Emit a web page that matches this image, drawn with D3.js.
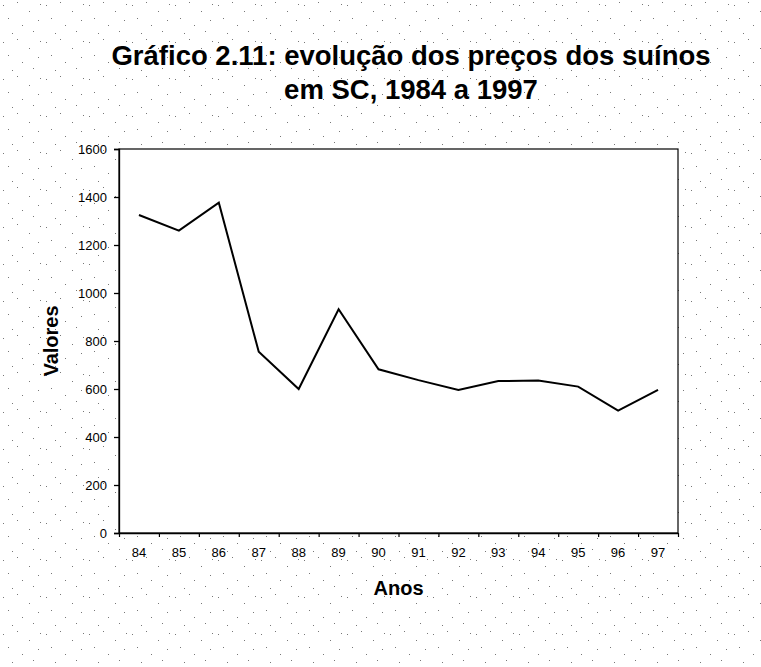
<!DOCTYPE html>
<html>
<head>
<meta charset="utf-8">
<script src="https://cdn.jsdelivr.net/npm/d3@7"></script>
<style>
body { margin: 0; background: #fff; }
text { font-family: Arial, "Liberation Sans", sans-serif; fill: #000; }
</style>
</head>
<body>
<div id="chart"></div>
<script>
// data
var anos = ['84', '85', '86', '87', '88', '89', '90', '91', '92', '93', '94', '95', '96', '97'];
var precos = [1325, 1260, 1376, 755, 600, 932, 682, 637, 596, 633, 635, 610, 510, 596];
var yTicks = [0, 200, 400, 600, 800, 1000, 1200, 1400, 1600];

var width = 761;
var height = 667;
var plot = {left: 119, right: 678, top: 149, bottom: 533};

var svg = d3.select('#chart')
	.append('svg')
	.attr('width', width)
	.attr('height', height);

// scan-like stipple on the page background
var pat = svg.append('defs').append('pattern')
	.attr('id', 'stipple')
	.attr('width', 43)
	.attr('height', 37)
	.attr('patternUnits', 'userSpaceOnUse');
[[3, 5], [17, 2], [29, 11], [38, 20], [8, 18], [22, 25], [33, 31], [12, 33], [40, 4]].forEach(function(p){
	pat.append('rect').attr('x', p[0]).attr('y', p[1]).attr('width', 1).attr('height', 1).attr('fill', '#777');
});
svg.append('rect')
	.attr('width', width)
	.attr('height', height)
	.attr('fill', 'url(#stipple)');

// scales
var x_scale = d3.scaleBand()
	.domain(anos)
	.range([plot.left, plot.right]);
var y_scale = d3.scaleLinear()
	.domain([0, 1600])
	.range([plot.bottom, plot.top]);

// plot area
svg.append('rect')
	.attr('x', plot.left)
	.attr('y', plot.top)
	.attr('width', plot.right - plot.left)
	.attr('height', plot.bottom - plot.top)
	.attr('fill', '#fff')
	.attr('stroke', '#000')
	.attr('stroke-width', 1.2);

// y axis
var y_axis = d3.axisLeft(y_scale)
	.tickValues(yTicks)
	.tickSize(5)
	.tickPadding(7)
	.tickFormat(d3.format('d'));
svg.append('g')
	.attr('class', 'y-axis')
	.attr('transform', 'translate(' + plot.left + ',0)')
	.call(y_axis)
	.call(function(g){
		g.selectAll('text').style('font-size', '13px');
		g.selectAll('line, path').attr('stroke', '#000').attr('stroke-width', 1.3);
	});

// x axis: labels centred in each band, ticks on band boundaries
var x_labels = d3.axisBottom(x_scale).tickSize(0).tickPadding(15);
svg.append('g')
	.attr('class', 'x-axis')
	.attr('transform', 'translate(0,' + plot.bottom + ')')
	.call(x_labels)
	.call(function(g){
		g.selectAll('text').style('font-size', '13px');
		g.select('.domain').attr('stroke', '#000').attr('stroke-width', 1.3);
	});

var edge_scale = d3.scaleLinear()
	.domain([0, anos.length])
	.range([plot.left, plot.right]);
svg.append('g')
	.attr('transform', 'translate(0,' + plot.bottom + ')')
	.call(d3.axisBottom(edge_scale).tickValues(d3.range(anos.length + 1)).tickSize(4).tickFormat(''))
	.call(function(g){
		g.select('.domain').remove();
		g.selectAll('line').attr('stroke', '#000').attr('stroke-width', 1.2);
	});

// line
var line = d3.line()
	.x(function(d, i){ return x_scale(anos[i]) + x_scale.bandwidth() / 2; })
	.y(function(d){ return y_scale(d); });
svg.append('path')
	.datum(precos)
	.attr('d', line)
	.attr('fill', 'none')
	.attr('stroke', '#000')
	.attr('stroke-width', 2)
	.attr('stroke-linejoin', 'miter');

// titles
var title = svg.append('text')
	.attr('text-anchor', 'middle')
	.style('font-size', '27.5px')
	.style('font-weight', 'bold');
title.append('tspan').attr('x', 411).attr('y', 65).text('Gráfico 2.11: evolução dos preços dos suínos');
title.append('tspan').attr('x', 411).attr('y', 99).text('em SC, 1984 a 1997');

svg.append('text')
	.attr('x', (plot.left + plot.right) / 2)
	.attr('y', 595)
	.attr('text-anchor', 'middle')
	.style('font-size', '20px')
	.style('font-weight', 'bold')
	.text('Anos');

svg.append('text')
	.attr('transform', 'translate(58,' + ((plot.top + plot.bottom) / 2) + ') rotate(-90)')
	.attr('text-anchor', 'middle')
	.style('font-size', '20px')
	.style('font-weight', 'bold')
	.text('Valores');
</script>
</body>
</html>
